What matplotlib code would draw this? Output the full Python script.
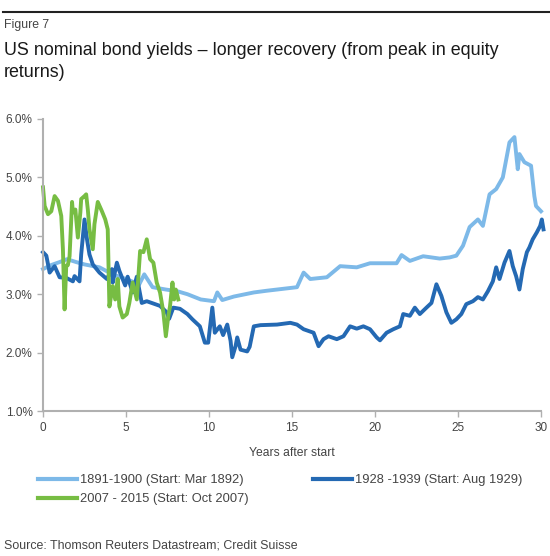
import matplotlib
matplotlib.use("Agg")
import matplotlib.pyplot as plt
from matplotlib.lines import Line2D

plt.rcParams['font.family'] = ['Liberation Sans', 'DejaVu Sans']

# 1891-1900 (Start: Mar 1892)
years_1892 = [0, 0.5, 1.0, 1.45, 2.0, 2.5, 3.4, 4.2, 5.0, 5.8, 6.1, 6.6, 7.4, 8.1, 8.7, 9.5,
              10.3, 10.5, 10.8, 11.5, 12.7, 13.5, 14.1, 14.7, 15.3, 15.7, 16.1, 17.1, 17.9,
              18.9, 19.7, 21.3, 21.6, 22.1, 22.9, 23.9, 24.5, 24.9, 25.3, 25.7, 26.2, 26.5,
              26.9, 27.3, 27.7, 28.1, 28.4, 28.6, 28.7, 29.0, 29.4, 29.6, 29.7, 30.0]
yield_1892 = [3.43, 3.5, 3.55, 3.6, 3.55, 3.51, 3.46, 3.34, 3.26, 3.17, 3.34, 3.12, 3.08, 3.05, 3.0, 2.91,
              2.88, 3.03, 2.9, 2.96, 3.03, 3.06, 3.08, 3.1, 3.12, 3.37, 3.26, 3.29, 3.48,
              3.46, 3.53, 3.53, 3.67, 3.57, 3.65, 3.61, 3.63, 3.66, 3.83, 4.15, 4.28, 4.17,
              4.71, 4.8, 5.0, 5.6, 5.69, 5.14, 5.4, 5.26, 5.2, 4.68, 4.51, 4.42]

# 1928-1939 (Start: Aug 1929)
years_1929 = [0, 0.2, 0.4, 0.7, 1.0, 1.4, 1.8, 1.9, 2.2, 2.3, 2.5, 2.65, 2.8, 3.0, 3.4, 3.85,
              4.15, 4.2, 4.45, 4.6, 4.95, 5.1, 5.4, 5.65, 5.95, 6.25, 7.05, 7.45, 7.6, 7.85,
              8.25, 8.7, 9.0, 9.45, 9.75, 9.95, 10.2, 10.35, 10.65, 10.85, 11.1, 11.3, 11.4,
              11.6, 11.7, 11.9, 12.3, 12.45, 12.7, 13.1, 14.1, 14.9, 15.3, 15.7, 16.3, 16.6,
              16.9, 17.2, 17.7, 18.1, 18.5, 18.9, 19.3, 19.7, 20.1, 20.3, 20.7, 21.1, 21.5,
              21.7, 22.1, 22.4, 22.7, 23.1, 23.4, 23.7, 24.0, 24.3, 24.6, 24.9, 25.2, 25.5,
              25.9, 26.2, 26.5, 26.8, 27.1, 27.3, 27.5, 27.8, 28.1, 28.3, 28.5, 28.7, 28.9,
              29.15, 29.3, 29.5, 29.75, 29.95, 30.05, 30.15]
yield_1929 = [3.72, 3.66, 3.37, 3.48, 3.29, 3.28, 3.22, 3.31, 3.22, 3.68, 4.28, 3.94, 3.68, 3.51, 3.37, 3.26,
              3.43, 3.2, 3.54, 3.4, 3.15, 3.3, 3.03, 3.3, 2.85, 2.88, 2.8, 2.69, 2.58, 2.77,
              2.75, 2.66, 2.57, 2.45, 2.17, 2.17, 2.77, 2.34, 2.45, 2.3, 2.48, 2.2, 1.92,
              2.11, 2.26, 2.05, 2.02, 2.1, 2.45, 2.47, 2.48, 2.51, 2.48, 2.4, 2.34, 2.11,
              2.23, 2.28, 2.23, 2.28, 2.45, 2.41, 2.45, 2.4, 2.26, 2.21, 2.34, 2.4, 2.45,
              2.66, 2.63, 2.77, 2.66, 2.77, 2.85, 3.17, 2.97, 2.69, 2.51, 2.57, 2.66, 2.83,
              2.88, 2.95, 2.91, 3.05, 3.22, 3.46, 3.26, 3.54, 3.74, 3.48, 3.31, 3.08, 3.43,
              3.72, 3.8, 3.94, 4.06, 4.17, 4.28, 4.11]

# 2007 - 2015 (Start: Oct 2007)
years_2007 = [0, 0.1, 0.3, 0.5, 0.7, 0.9, 1.1, 1.2, 1.3, 1.4, 1.5, 1.6, 1.75, 1.8, 1.95, 2.1,
              2.25, 2.3, 2.5, 2.6, 2.7, 2.8, 3.0, 3.1, 3.3, 3.55, 3.75, 3.9, 4.0, 4.2, 4.35,
              4.5, 4.6, 4.8, 5.05, 5.2, 5.4, 5.65, 5.85, 6.05, 6.25, 6.45, 6.65, 6.85, 7.05,
              7.25, 7.4, 7.55, 7.65, 7.8, 7.9, 8.0, 8.15]
yield_2007 = [4.83, 4.51, 4.37, 4.42, 4.68, 4.6, 4.34, 3.77, 2.74, 3.48, 3.5, 3.65, 4.58, 4.4, 4.45, 3.97,
              4.4, 4.63, 4.68, 4.71, 4.45, 4.11, 3.77, 4.2, 4.58, 4.42, 4.28, 4.11, 2.79, 3.14, 2.91,
              3.26, 2.79, 2.6, 2.66, 2.85, 3.2, 2.91, 3.74, 3.72, 3.94, 3.6, 3.54, 3.2, 3.03,
              2.69, 2.28, 2.63, 2.79, 3.2, 2.91, 3.08, 2.91]

series_labels = ['1891-1900 (Start: Mar 1892)', '1928 -1939 (Start: Aug 1929)', '2007 - 2015 (Start: Oct 2007)']
colors = ['#7db9e8', '#2469b3', '#77bd43']

y_ticks = [1, 2, 3, 4, 5, 6]
x_ticks = [0, 5, 10, 15, 20, 25, 30]

W, H = 550, 556
fig = plt.figure(figsize=(W / 100, H / 100), dpi=100)

# header
fig.add_artist(Line2D([3 / W, 1], [1 - 12 / H, 1 - 12 / H], color='#222222', lw=1.5))
fig.text(4 / W, 1 - 25 / H, 'Figure 7', fontsize=8.8, color='#444444', va='center')
fig.text(4 / W, 1 - 50.5 / H, 'US nominal bond yields \u2013 longer recovery (from peak in equity',
         fontsize=12.9, color='#1a1a1a', va='center')
fig.text(4 / W, 1 - 72.5 / H, 'returns)', fontsize=12.9, color='#1a1a1a', va='center')

ax = fig.add_axes([43 / W, 1 - 411 / H, 498 / W, 292 / H])
ax.plot(years_1892, yield_1892, color=colors[0], lw=2.8, clip_on=False, solid_joinstyle='round')
ax.plot(years_1929, yield_1929, color=colors[1], lw=2.8, clip_on=False, solid_joinstyle='round')
ax.plot(years_2007, yield_2007, color=colors[2], lw=2.8, clip_on=False, solid_joinstyle='round')

ax.set_xlim(0, 30)
ax.set_ylim(1, 6)
ax.set_yticks(y_ticks)
ax.set_yticklabels(['%.1f%%' % v for v in y_ticks])
ax.set_xticks(x_ticks)
for s in ['top', 'right']:
    ax.spines[s].set_visible(False)
for s in ['left', 'bottom']:
    ax.spines[s].set_color('#b0b0b0')
    ax.spines[s].set_linewidth(1.5)
ax.tick_params(colors='#b0b0b0', labelcolor='#444444', labelsize=8.5, length=4, width=1)
ax.tick_params(axis='x', pad=4)
ax.set_xlabel('Years after start', fontsize=8.7, color='#444444', labelpad=9)

handles = [Line2D([], [], color=colors[0], lw=3),
           Line2D([], [], color=colors[2], lw=3),
           Line2D([], [], color=colors[1], lw=3)]
labels = [series_labels[0], series_labels[2], series_labels[1]]
fig.legend(handles, labels, loc='upper left', bbox_to_anchor=(38 / W, 1 - 474 / H), ncol=2,
           frameon=False, fontsize=9.3, handlelength=3.0, handletextpad=0.25,
           columnspacing=5.0, labelspacing=0.55, labelcolor='#444444',
           borderaxespad=0, borderpad=0)

fig.text(4 / W, 1 - 546 / H, 'Source: Thomson Reuters Datastream; Credit Suisse',
         fontsize=8.9, color='#444444', va='center')

fig.savefig('out.png', dpi=100)
